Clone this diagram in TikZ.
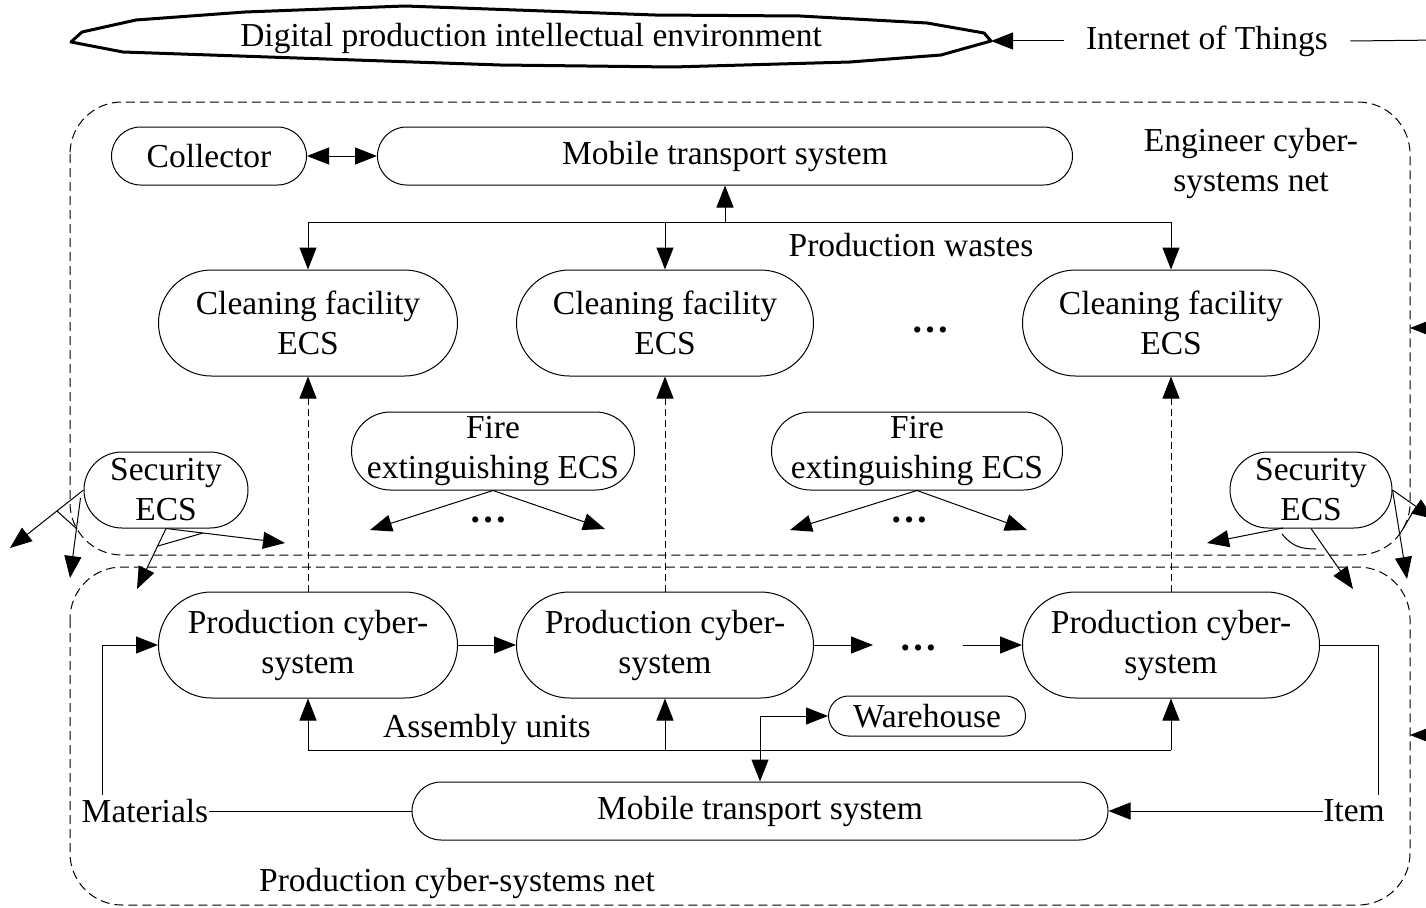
\documentclass[tikz,border=0pt]{standalone}
\usepackage{fontspec}
\setmainfont{Liberation Serif}
\usetikzlibrary{arrows.meta}

\begin{document}
\begin{tikzpicture}[x=1pt,y=-1pt,line width=1pt,
	every node/.style={font=\fontsize{33.5}{40}\selectfont},
	unit/.style={draw,rounded corners=#1,inner sep=0pt,align=center},
	tip/.style={-{Triangle[length=22pt,width=17pt]}},
	link/.style={dash pattern=on 7pt off 4pt},
	etc/.style={font=\fontsize{38}{40}\selectfont\bfseries},
	net/.style={dash pattern=on 9pt off 5pt,rounded corners=52pt}]
			\useasboundingbox (0,0) rectangle (1426,907);
			\clip (0,0) rectangle (1426,907);
			% banner
			\draw[line width=3pt,line join=round] (71,42) -- (82,32) -- (136,20) -- (245,12) -- (405,6) -- (655,15) -- (800,16) -- (927,23) -- (984,33) -- (991,41)
				-- (941,55) -- (850,62) -- (673,67) -- (500,65) -- (123,52) -- cycle;
			\node (env) at (531,38) {Digital production intellectual environment};
			\coordinate (envtip) at (991,41);
			\node[inner xsep=22pt] (iot) at (1207,41) {Internet of Things};
			\coordinate (iotr) at (1440,40);
			\draw[tip] (iot.west) -- (envtip);
			\draw (iot.east) -- (iotr);
			% nets
			\draw[net] (70,102) rectangle (1410,555);
			\draw[net] (70,567) rectangle (1410,905);
			\node[align=center] (eng) at (1251,163) {Engineer cyber-\\systems net};
			\node (pnet) at (457,883) {Production cyber-systems net};
			\coordinate (ext1) at (1450,328);
			\coordinate (ext2) at (1450,735);
			\draw[tip] (ext1) -- (1410,328);
			\draw[tip] (ext2) -- (1410,735);
			% engineer units
			\node[unit=29pt,minimum width=195pt,minimum height=58pt] (coll) at (209,156) {Collector};
			\node[unit=29pt,minimum width=695pt,minimum height=58pt] (mts1) at (725,156) {Mobile transport system};
			\draw[{Triangle[length=22pt,width=17pt]}-{Triangle[length=22pt,width=17pt]}] (coll) -- (mts1);
			\node[unit=53pt,minimum width=299pt,minimum height=106pt] (cf1) at (308,323) {Cleaning facility\\ECS};
			\node[unit=53pt,minimum width=297pt,minimum height=106pt] (cf2) at (665,323) {Cleaning facility\\ECS};
			\node[unit=53pt,minimum width=297pt,minimum height=106pt] (cf3) at (1171,323) {Cleaning facility\\ECS};
			\node[etc] (cfdots) at (930,330) {…};
			\coordinate (wj) at (725,222);
			\draw[tip] (wj) -- (mts1.south);
			\draw (cf1.north |- wj) -- (cf3.north |- wj);
			\draw[tip] (cf1.north |- wj) -- (cf1.north);
			\draw[tip] (cf2.north |- wj) -- (cf2.north);
			\draw[tip] (cf3.north |- wj) -- (cf3.north);
			\node (wastes) at (911,245) {Production wastes};
			% fire
			\node[unit=39pt,minimum width=283pt,minimum height=78pt] (fire1) at (493,451) {Fire\\extinguishing ECS};
			\node[unit=39pt,minimum width=291pt,minimum height=78pt] (fire2) at (917,451) {Fire\\extinguishing ECS};
			\coordinate (f1l) at (370,530);
			\coordinate (f1r) at (605,529);
			\coordinate (f2l) at (790,530);
			\coordinate (f2r) at (1027,530);
			\draw[tip] (fire1.south) -- (f1l);
			\draw[tip] (fire1.south) -- (f1r);
			\draw[tip] (fire2.south) -- (f2l);
			\draw[tip] (fire2.south) -- (f2r);
			\node[etc] (fdots1) at (488,520) {…};
			\node[etc] (fdots2) at (909,520) {…};
			% security
			\node[unit=38pt,minimum width=164pt,minimum height=76pt] (sec1) at (166,490) {Security\\ECS};
			\node[unit=38pt,minimum width=162pt,minimum height=76pt] (sec2) at (1311,490) {Security\\ECS};
			\coordinate (s1a) at (10,548);
			\coordinate (s1b) at (70,578);
			\coordinate (s1c) at (137,589);
			\coordinate (s1d) at (285,543);
			\draw[tip] (sec1.west) -- (s1a);
			\draw[tip] (sec1.west) ++(-3,8) -- (s1b);
			\draw[tip] (sec1.south) -- (s1c);
			\draw[tip] (sec1.south) -- (s1d);
			\draw (57,511) -- (77,529);
			\draw (158,546) -- (203,533);
			\coordinate (s2a) at (1207,543);
			\coordinate (s2b) at (1353,589);
			\coordinate (s2c) at (1434,519);
			\coordinate (s2d) at (1407,579);
			\draw[tip] (1283,528) -- (s2a);
			\draw[tip] (sec2.south) -- (s2b);
			\draw[tip] (sec2.east) -- (s2c);
			\draw[tip] (sec2.east) -- (s2d);
			\draw (1282,534) .. controls (1292,546) and (1300,549) .. (1316,549);
			\draw (1401,532) -- (1413,512);
			% production units
			\node[unit=53pt,minimum width=299pt,minimum height=106pt] (pcs1) at (308,645) {Production cyber-\\system};
			\node[unit=53pt,minimum width=297pt,minimum height=106pt] (pcs2) at (665,645) {Production cyber-\\system};
			\node[unit=53pt,minimum width=297pt,minimum height=106pt] (pcs3) at (1171,645) {Production cyber-\\system};
			\draw[tip,link] (pcs1.north) -- (cf1.south);
			\draw[tip,link] (pcs2.north) -- (cf2.south);
			\draw[tip,link] (pcs3.north) -- (cf3.south);
			\coordinate (pd1) at (873,645);
			\coordinate (pd2) at (963,645);
			\node[etc] (pdots) at (918,648) {…};
			\draw[tip] (pcs1) -- (pcs2);
			\draw[tip] (pcs2.east) -- (pd1);
			\draw[tip] (pd2) -- (pcs3.west);
			% transport below
			\node[unit=29pt,minimum width=696pt,minimum height=58pt] (mts2) at (760,811) {Mobile transport system};
			\node[unit=20pt,minimum width=197pt,minimum height=40pt] (wh) at (927,716) {Warehouse};
			\coordinate (aj) at (760,750);
			\draw (pcs1.south |- aj) -- (pcs3.south |- aj);
			\draw[tip] (pcs1.south |- aj) -- (pcs1.south);
			\draw[tip] (pcs2.south |- aj) -- (pcs2.south);
			\draw[tip] (pcs3.south |- aj) -- (pcs3.south);
			\node (asm) at (487,729) {Assembly units};
			\coordinate (wb) at (mts2.north |- wh.west);
			\draw[tip] (wb) -- (wh.west);
			\draw[tip] (wb) -- (mts2.north);
			\node[inner sep=0pt] (mat) at (145,811) {Materials};
			\node[inner sep=0pt] (item) at (1354,811) {Item};
			\coordinate (mc) at (102,795);
			\coordinate (ic) at (1378,795);
			\draw[tip] (mc) |- (pcs1.west);
			\draw (mat.east) -- (mts2.west);
			\draw[tip] (item.west) -- (mts2.east);
			\draw (pcs3.east) -| (ic);
		\end{tikzpicture}
\end{document}
